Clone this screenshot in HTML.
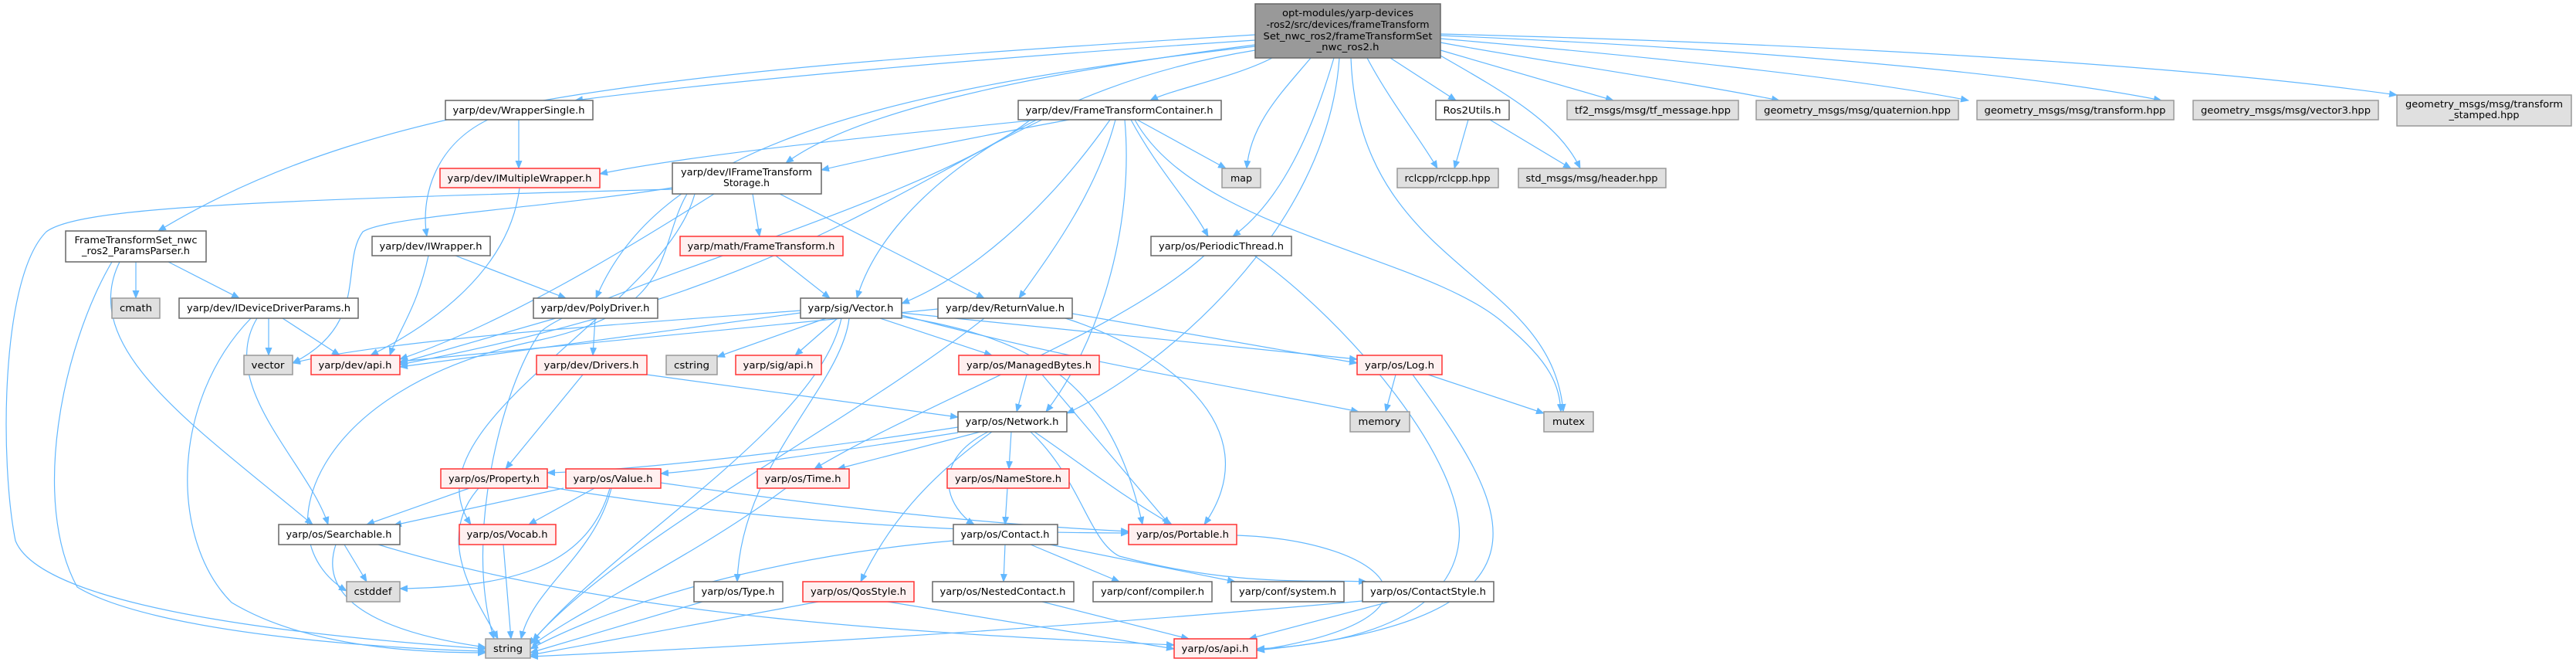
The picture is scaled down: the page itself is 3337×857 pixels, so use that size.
<!DOCTYPE html>
<html><head><meta charset="utf-8"><style>
html,body{margin:0;padding:0;background:#fff;}
svg{display:block;}
text{font-family:"DejaVu Sans","Liberation Sans",sans-serif;font-size:12px;fill:#000;text-anchor:middle;}
.e{fill:none;stroke:#63b8ff;stroke-width:1.2;marker-end:url(#a);}
.w{fill:#fff;stroke:#666;stroke-width:1.5;}
.r{fill:#fff0f0;stroke:#f33;stroke-width:1.5;}
.g{fill:#e0e0e0;stroke:#999;stroke-width:1.5;}
.m{fill:#999;stroke:#666;stroke-width:1.5;}
</style></head><body>
<svg width="3337" height="857" viewBox="0 0 3337 857" xmlns="http://www.w3.org/2000/svg">
<defs><marker id="a" markerUnits="userSpaceOnUse" markerWidth="11" markerHeight="9" refX="10" refY="4.5" orient="auto"><path d="M0,0 L11,4.5 L0,9 z" fill="#63b8ff"/></marker></defs>
<g>
<!-- edges from main -->
<path class="e" d="M1626,45 C900,90 500,120 205,299"/>
<path class="e" d="M1626,52 C1200,80 900,110 745,130"/>
<path class="e" d="M1626,58 C1300,100 1100,150 1018,211"/>
<path class="e" d="M1626,60 C1100,120 850,200 772,386"/>
<path class="e" d="M1648,75 C1600,100 1520,115 1490,130"/>
<path class="e" d="M1626,65 C1350,110 1150,250 1110,386"/>
<path class="e" d="M1698,75 C1660,120 1620,160 1615,218"/>
<path class="e" d="M1728,75 C1700,170 1660,260 1597,306"/>
<path class="e" d="M1735,75 C1720,300 1500,480 1382,535"/>
<path class="e" d="M1801,75 L1886,130"/>
<path class="e" d="M1771,75 C1800,130 1840,180 1862,218"/>
<path class="e" d="M1866,72 C1950,120 2020,160 2047,218"/>
<path class="e" d="M1750,75 C1760,350 2010,350 2025,533"/>
<path class="e" d="M1866,65 L2090,130"/>
<path class="e" d="M1866,55 C2000,80 2150,100 2305,130"/>
<path class="e" d="M1866,50 C2100,70 2400,100 2550,130"/>
<path class="e" d="M1866,46 C2200,60 2600,90 2800,130"/>
<path class="e" d="M1866,44 C2300,55 2800,80 3105,123"/>
<!-- container -->
<path class="e" d="M1345,155 C1100,180 900,200 777,225"/>
<path class="e" d="M1385,155 C1250,180 1150,200 1064,220"/>
<path class="e" d="M1473,155 L1588,218"/>
<path class="e" d="M1465,155 C1500,220 1540,260 1565,306"/>
<path class="e" d="M1457,155 C1470,300 1420,450 1355,533"/>
<path class="e" d="M1445,155 C1420,250 1360,330 1320,386"/>
<path class="e" d="M1438,155 C1350,280 1250,360 1168,393"/>
<path class="e" d="M1470,155 C1550,300 1850,330 1950,420 C2010,470 2020,500 2022,533"/>
<path class="e" d="M1350,155 C1150,250 1000,380 518,472"/>
<path class="e" d="M1335,155 C1200,260 750,380 700,430 C650,500 600,700 640,827"/>
<!-- storage -->
<path class="e" d="M975,251 L984,306"/>
<path class="e" d="M1010,251 L1275,386"/>
<path class="e" d="M925,251 C800,330 650,420 518,465"/>
<path class="e" d="M871,243 C700,270 500,280 470,300 C440,340 480,420 379,470"/>
<path class="e" d="M871,245 C300,260 100,270 60,300 C0,360 0,600 20,700 C60,800 500,830 629,840"/>
<path class="e" d="M890,251 C850,320 880,400 700,440 C400,500 340,700 449,765"/>
<path class="e" d="M900,251 C860,400 520,550 610,679"/>
<!-- misc upper -->
<path class="e" d="M673,243 C660,350 560,420 480,460"/>
<path class="e" d="M672,155 L672,218"/>
<path class="e" d="M632,155 C560,190 545,260 553,306"/>
<path class="e" d="M590,331 L733,386"/>
<path class="e" d="M555,331 C540,400 515,430 505,460"/>
<path class="e" d="M176,339 L176,386"/>
<path class="e" d="M218,339 L310,386"/>
<path class="e" d="M145,339 C80,450 40,650 100,760 C200,820 500,840 629,843"/>
<path class="e" d="M155,339 C100,450 250,550 405,679"/>
<path class="e" d="M348,412 L348,460"/>
<path class="e" d="M366,412 L440,460"/>
<path class="e" d="M333,412 C280,500 400,600 425,679"/>
<path class="e" d="M325,412 C220,520 220,700 300,780 C400,840 550,845 629,845"/>
<path class="e" d="M720,412 L518,470"/>
<path class="e" d="M771,412 L768,460"/>
<path class="e" d="M1005,331 L1075,386"/>
<!-- vector -->
<path class="e" d="M1037,402 C800,420 500,440 379,470"/>
<path class="e" d="M1037,405 L518,475"/>
<path class="e" d="M1070,412 L929,462"/>
<path class="e" d="M1085,412 L1030,460"/>
<path class="e" d="M1140,412 L1285,460"/>
<path class="e" d="M1168,405 C1400,430 1600,450 1758,465"/>
<path class="e" d="M1168,408 C1400,470 1600,500 1760,533"/>
<path class="e" d="M1168,410 C1350,440 1440,500 1480,679"/>
<path class="e" d="M1100,412 C1090,500 960,600 955,753"/>
<path class="e" d="M1090,412 C1060,550 800,700 690,830"/>
<!-- returnvalue -->
<path class="e" d="M1389,406 L1758,470"/>
<path class="e" d="M1380,412 C1500,450 1650,550 1560,679"/>
<path class="e" d="M1275,412 C1100,550 800,700 685,835"/>
<path class="e" d="M1215,400 C900,430 700,450 518,468"/>
<path class="e" d="M755,485 L655,607"/>
<path class="e" d="M838,485 L1241,540"/>
<path class="e" d="M1560,331 C1450,430 1200,520 1055,607"/>
<path class="e" d="M1625,331 C1750,420 1900,600 1890,700 C1880,800 1750,835 1628,840"/>
<path class="e" d="M1330,485 L1317,533"/>
<path class="e" d="M1350,485 L1515,679"/>
<path class="e" d="M1808,485 L1795,533"/>
<path class="e" d="M1850,485 L2000,535"/>
<path class="e" d="M1830,485 C1950,650 2050,800 1628,842"/>
<!-- network -->
<path class="e" d="M1241,553 C1000,590 800,610 709,612"/>
<path class="e" d="M1241,560 C1050,590 900,610 856,613"/>
<path class="e" d="M1270,559 L1085,607"/>
<path class="e" d="M1310,559 L1307,607"/>
<path class="e" d="M1280,559 C1200,600 1230,660 1262,679"/>
<path class="e" d="M1340,559 C1400,600 1450,640 1518,679"/>
<path class="e" d="M1285,559 C1200,620 1150,680 1115,753"/>
<path class="e" d="M1335,559 C1400,620 1410,700 1450,720 C1600,760 1700,750 1770,753"/>
<path class="e" d="M1305,632 L1302,679"/>
<path class="e" d="M608,632 L475,679"/>
<path class="e" d="M620,632 C560,700 620,780 645,827"/>
<path class="e" d="M709,630 C1000,680 1300,690 1462,690"/>
<path class="e" d="M730,632 L510,680"/>
<path class="e" d="M770,632 L685,679"/>
<path class="e" d="M790,632 C760,740 650,760 518,762"/>
<path class="e" d="M792,632 C770,720 690,760 675,827"/>
<path class="e" d="M856,625 C1100,660 1300,680 1462,688"/>
<path class="e" d="M1018,632 C900,720 750,790 690,835"/>
<path class="e" d="M446,705 L475,753"/>
<path class="e" d="M435,705 C410,780 500,820 629,838"/>
<path class="e" d="M490,705 C800,800 1200,820 1521,835"/>
<path class="e" d="M652,705 L662,827"/>
<path class="e" d="M1235,700 C1000,720 800,780 687,840"/>
<path class="e" d="M1302,705 L1300,753"/>
<path class="e" d="M1335,705 L1450,753"/>
<path class="e" d="M1360,705 L1600,753"/>
<path class="e" d="M1602,693 C1800,700 1900,800 1628,842"/>
<path class="e" d="M910,779 L687,845"/>
<path class="e" d="M1060,779 L687,848"/>
<path class="e" d="M1150,779 L1521,840"/>
<path class="e" d="M1350,779 L1540,827"/>
<path class="e" d="M1765,778 C1300,820 900,840 687,850"/>
<path class="e" d="M1800,779 L1618,827"/>
<path class="e" d="M1902,155 L1884,218"/>
<path class="e" d="M1930,155 L2035,218"/>
</g>
<g>
<rect class="m" x="1626" y="5" width="240" height="70"/>
<text x="1746" y="21" textLength="170" lengthAdjust="spacingAndGlyphs">opt-modules/yarp-devices</text>
<text x="1746" y="36" textLength="211" lengthAdjust="spacingAndGlyphs">-ros2/src/devices/frameTransform</text>
<text x="1746" y="51" textLength="219" lengthAdjust="spacingAndGlyphs">Set_nwc_ros2/frameTransformSet</text>
<text x="1746" y="65" textLength="81" lengthAdjust="spacingAndGlyphs">_nwc_ros2.h</text>

<rect class="w" x="577" y="130" width="191" height="25"/><text x="672" y="147" textLength="171" lengthAdjust="spacingAndGlyphs">yarp/dev/WrapperSingle.h</text>
<rect class="w" x="1319" y="130" width="263" height="25"/><text x="1450" y="147" textLength="243" lengthAdjust="spacingAndGlyphs">yarp/dev/FrameTransformContainer.h</text>
<rect class="w" x="1860" y="130" width="95" height="25"/><text x="1907" y="147" textLength="75" lengthAdjust="spacingAndGlyphs">Ros2Utils.h</text>
<rect class="g" x="2030" y="130" width="222" height="25"/><text x="2141" y="147" textLength="202" lengthAdjust="spacingAndGlyphs">tf2_msgs/msg/tf_message.hpp</text>
<rect class="g" x="2275" y="130" width="262" height="25"/><text x="2406" y="147" textLength="242" lengthAdjust="spacingAndGlyphs">geometry_msgs/msg/quaternion.hpp</text>
<rect class="g" x="2561" y="130" width="255" height="25"/><text x="2688" y="147" textLength="235" lengthAdjust="spacingAndGlyphs">geometry_msgs/msg/transform.hpp</text>
<rect class="g" x="2841" y="130" width="240" height="25"/><text x="2961" y="147" textLength="220" lengthAdjust="spacingAndGlyphs">geometry_msgs/msg/vector3.hpp</text>
<rect class="g" x="3105" y="123" width="226" height="40"/><text x="3218" y="139" textLength="204" lengthAdjust="spacingAndGlyphs">geometry_msgs/msg/transform</text><text x="3218" y="153" textLength="91" lengthAdjust="spacingAndGlyphs">_stamped.hpp</text>

<rect class="r" x="570" y="218" width="207" height="25"/><text x="673" y="235" textLength="187" lengthAdjust="spacingAndGlyphs">yarp/dev/IMultipleWrapper.h</text>
<rect class="w" x="871" y="211" width="193" height="40"/><text x="967" y="227" textLength="170" lengthAdjust="spacingAndGlyphs">yarp/dev/IFrameTransform</text><text x="967" y="241" textLength="60" lengthAdjust="spacingAndGlyphs">Storage.h</text>
<rect class="g" x="1583" y="218" width="50" height="25"/><text x="1608" y="235" textLength="28" lengthAdjust="spacingAndGlyphs">map</text>
<rect class="g" x="1810" y="218" width="131" height="25"/><text x="1875" y="235" textLength="111" lengthAdjust="spacingAndGlyphs">rclcpp/rclcpp.hpp</text>
<rect class="g" x="1967" y="218" width="191" height="25"/><text x="2062" y="235" textLength="171" lengthAdjust="spacingAndGlyphs">std_msgs/msg/header.hpp</text>

<rect class="w" x="85" y="299" width="182" height="40"/><text x="176" y="315" textLength="159" lengthAdjust="spacingAndGlyphs">FrameTransformSet_nwc</text><text x="176" y="329" textLength="140" lengthAdjust="spacingAndGlyphs">_ros2_ParamsParser.h</text>
<rect class="w" x="482" y="306" width="153" height="25"/><text x="558" y="323" textLength="133" lengthAdjust="spacingAndGlyphs">yarp/dev/IWrapper.h</text>
<rect class="r" x="881" y="306" width="211" height="25"/><text x="986" y="323" textLength="191" lengthAdjust="spacingAndGlyphs">yarp/math/FrameTransform.h</text>
<rect class="w" x="1491" y="306" width="182" height="25"/><text x="1582" y="323" textLength="162" lengthAdjust="spacingAndGlyphs">yarp/os/PeriodicThread.h</text>

<rect class="g" x="145" y="386" width="62" height="26"/><text x="176" y="403" textLength="42" lengthAdjust="spacingAndGlyphs">cmath</text>
<rect class="w" x="232" y="386" width="232" height="26"/><text x="348" y="403" textLength="212" lengthAdjust="spacingAndGlyphs">yarp/dev/IDeviceDriverParams.h</text>
<rect class="w" x="691" y="386" width="161" height="26"/><text x="771" y="403" textLength="141" lengthAdjust="spacingAndGlyphs">yarp/dev/PolyDriver.h</text>
<rect class="w" x="1037" y="386" width="131" height="26"/><text x="1102" y="403" textLength="111" lengthAdjust="spacingAndGlyphs">yarp/sig/Vector.h</text>
<rect class="w" x="1215" y="386" width="174" height="26"/><text x="1302" y="403" textLength="154" lengthAdjust="spacingAndGlyphs">yarp/dev/ReturnValue.h</text>

<rect class="g" x="316" y="460" width="63" height="25"/><text x="347" y="477" textLength="43" lengthAdjust="spacingAndGlyphs">vector</text>
<rect class="r" x="403" y="460" width="115" height="25"/><text x="460" y="477" textLength="95" lengthAdjust="spacingAndGlyphs">yarp/dev/api.h</text>
<rect class="r" x="695" y="460" width="143" height="25"/><text x="766" y="477" textLength="123" lengthAdjust="spacingAndGlyphs">yarp/dev/Drivers.h</text>
<rect class="g" x="863" y="460" width="66" height="25"/><text x="896" y="477" textLength="46" lengthAdjust="spacingAndGlyphs">cstring</text>
<rect class="r" x="953" y="460" width="111" height="25"/><text x="1008" y="477" textLength="91" lengthAdjust="spacingAndGlyphs">yarp/sig/api.h</text>
<rect class="r" x="1242" y="460" width="182" height="25"/><text x="1333" y="477" textLength="162" lengthAdjust="spacingAndGlyphs">yarp/os/ManagedBytes.h</text>
<rect class="r" x="1758" y="460" width="110" height="25"/><text x="1813" y="477" textLength="90" lengthAdjust="spacingAndGlyphs">yarp/os/Log.h</text>

<rect class="w" x="1241" y="533" width="141" height="26"/><text x="1311" y="550" textLength="121" lengthAdjust="spacingAndGlyphs">yarp/os/Network.h</text>
<rect class="g" x="1749" y="533" width="77" height="26"/><text x="1787" y="550" textLength="55" lengthAdjust="spacingAndGlyphs">memory</text>
<rect class="g" x="2000" y="533" width="64" height="26"/><text x="2032" y="550" textLength="42" lengthAdjust="spacingAndGlyphs">mutex</text>

<rect class="r" x="571" y="607" width="138" height="25"/><text x="640" y="624" textLength="118" lengthAdjust="spacingAndGlyphs">yarp/os/Property.h</text>
<rect class="r" x="733" y="607" width="123" height="25"/><text x="794" y="624" textLength="103" lengthAdjust="spacingAndGlyphs">yarp/os/Value.h</text>
<rect class="r" x="981" y="607" width="119" height="25"/><text x="1040" y="624" textLength="99" lengthAdjust="spacingAndGlyphs">yarp/os/Time.h</text>
<rect class="r" x="1227" y="607" width="158" height="25"/><text x="1306" y="624" textLength="138" lengthAdjust="spacingAndGlyphs">yarp/os/NameStore.h</text>

<rect class="w" x="361" y="679" width="157" height="26"/><text x="439" y="696" textLength="137" lengthAdjust="spacingAndGlyphs">yarp/os/Searchable.h</text>
<rect class="r" x="595" y="679" width="125" height="26"/><text x="657" y="696" textLength="105" lengthAdjust="spacingAndGlyphs">yarp/os/Vocab.h</text>
<rect class="w" x="1235" y="679" width="135" height="26"/><text x="1302" y="696" textLength="115" lengthAdjust="spacingAndGlyphs">yarp/os/Contact.h</text>
<rect class="r" x="1462" y="679" width="140" height="26"/><text x="1532" y="696" textLength="120" lengthAdjust="spacingAndGlyphs">yarp/os/Portable.h</text>

<rect class="g" x="449" y="753" width="69" height="26"/><text x="483" y="770" textLength="49" lengthAdjust="spacingAndGlyphs">cstddef</text>
<rect class="w" x="899" y="753" width="115" height="26"/><text x="956" y="770" textLength="95" lengthAdjust="spacingAndGlyphs">yarp/os/Type.h</text>
<rect class="r" x="1040" y="753" width="144" height="26"/><text x="1112" y="770" textLength="124" lengthAdjust="spacingAndGlyphs">yarp/os/QosStyle.h</text>
<rect class="w" x="1208" y="753" width="183" height="26"/><text x="1299" y="770" textLength="163" lengthAdjust="spacingAndGlyphs">yarp/os/NestedContact.h</text>
<rect class="w" x="1416" y="753" width="154" height="26"/><text x="1493" y="770" textLength="134" lengthAdjust="spacingAndGlyphs">yarp/conf/compiler.h</text>
<rect class="w" x="1595" y="753" width="146" height="26"/><text x="1668" y="770" textLength="126" lengthAdjust="spacingAndGlyphs">yarp/conf/system.h</text>
<rect class="w" x="1765" y="753" width="170" height="26"/><text x="1850" y="770" textLength="150" lengthAdjust="spacingAndGlyphs">yarp/os/ContactStyle.h</text>

<rect class="g" x="629" y="827" width="58" height="25"/><text x="658" y="844" textLength="38" lengthAdjust="spacingAndGlyphs">string</text>
<rect class="r" x="1521" y="827" width="107" height="25"/><text x="1574" y="844" textLength="87" lengthAdjust="spacingAndGlyphs">yarp/os/api.h</text>
</g>
</svg>
</body></html>
